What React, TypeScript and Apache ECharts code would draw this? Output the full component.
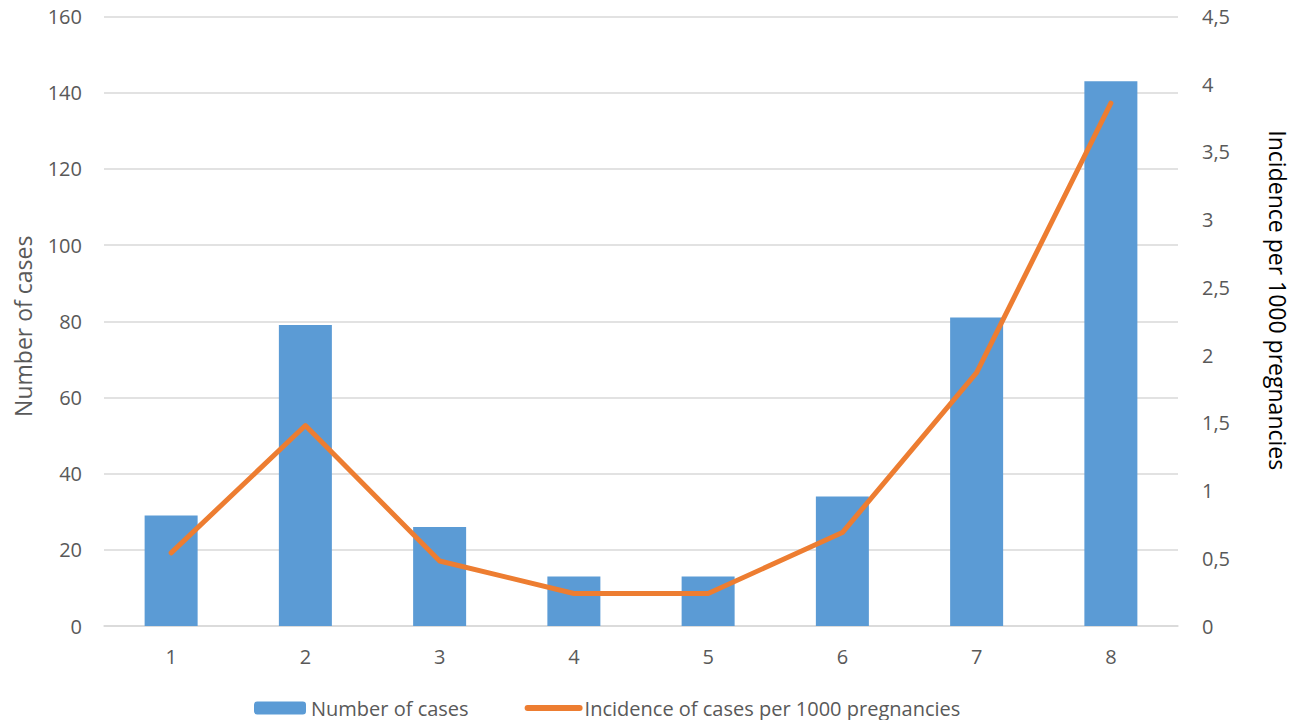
import React, { useEffect, useRef } from "react";
import * as echarts from "echarts";

const categories = ["1", "2", "3", "4", "5", "6", "7", "8"];
const numberOfCases = [29, 79, 26, 13, 13, 34, 81, 143];
const incidence = [0.54, 1.48, 0.48, 0.24, 0.24, 0.69, 1.87, 3.86];

const FONT = "'Open Sans', sans-serif";
const GREY = "#595959";

export default function App() {
  const ref = useRef<HTMLDivElement>(null);
  useEffect(() => {
    if (!ref.current) return;
    const chart = echarts.init(ref.current, undefined, { renderer: "svg" });
    chart.setOption({
      animation: false,
      textStyle: { fontFamily: FONT },
      grid: {
        left: 104,
        right: 119,
        top: 16.5,
        bottom: 102,
        containLabel: false,
        outerBoundsMode: "none",
      },
      legend: {
        left: 254,
        top: 698,
        padding: 0,
        itemWidth: 52,
        itemHeight: 13,
        itemGap: 56,
        textStyle: { color: GREY, fontSize: 20, fontFamily: FONT },
        data: [
          { name: "Number of cases" },
          {
            name: "Incidence of cases per 1000 pregnancies",
            itemStyle: { opacity: 0 },
            lineStyle: { width: 6, cap: "round", color: "#ed7d31" },
          },
        ],
      },
      xAxis: {
        type: "category",
        data: categories,
        axisLine: { lineStyle: { color: "#d9d9d9", width: 1.5 } },
        axisTick: { show: false },
        axisLabel: { color: GREY, fontSize: 20, margin: 20, fontFamily: FONT },
      },
      yAxis: [
        {
          type: "value",
          min: 0,
          max: 160,
          interval: 20,
          name: "Number of cases",
          nameLocation: "middle",
          nameGap: 70,
          nameRotate: 90,
          nameTextStyle: { color: GREY, fontSize: 23, fontFamily: FONT, padding: [0, 10, 0, 0] },
          axisLine: { show: false },
          axisTick: { show: false },
          axisLabel: { color: GREY, fontSize: 20, margin: 22, fontFamily: FONT },
          splitLine: { lineStyle: { color: "#d9d9d9", width: 1.5 } },
        },
        {
          type: "value",
          min: 0,
          max: 4.5,
          interval: 0.5,
          name: "Incidence per 1000 pregnancies",
          nameLocation: "middle",
          nameGap: 88,
          nameRotate: -90,
          nameTextStyle: { color: "#000000", fontSize: 23, fontFamily: FONT, padding: [0, 42, 0, 0] },
          axisLine: { show: false },
          axisTick: { show: false },
          axisLabel: {
            color: GREY,
            fontSize: 20,
            margin: 24,
            fontFamily: FONT,
            formatter: (v: number) => String(v).replace(".", ","),
          },
          splitLine: { show: false },
        },
      ],
      series: [
        {
          name: "Number of cases",
          type: "bar",
          data: numberOfCases,
          barWidth: 53,
          itemStyle: { color: "#5b9bd5" },
          yAxisIndex: 0,
        },
        {
          name: "Incidence of cases per 1000 pregnancies",
          type: "line",
          data: incidence,
          yAxisIndex: 1,
          symbol: "none",
          lineStyle: { color: "#ed7d31", width: 5, cap: "round", join: "round" },
          itemStyle: { color: "#ed7d31" },
        },
      ],
    });
    return () => chart.dispose();
  }, []);
  return <div ref={ref} style={{ width: 1297, height: 728, margin: -8 }} />;
}
